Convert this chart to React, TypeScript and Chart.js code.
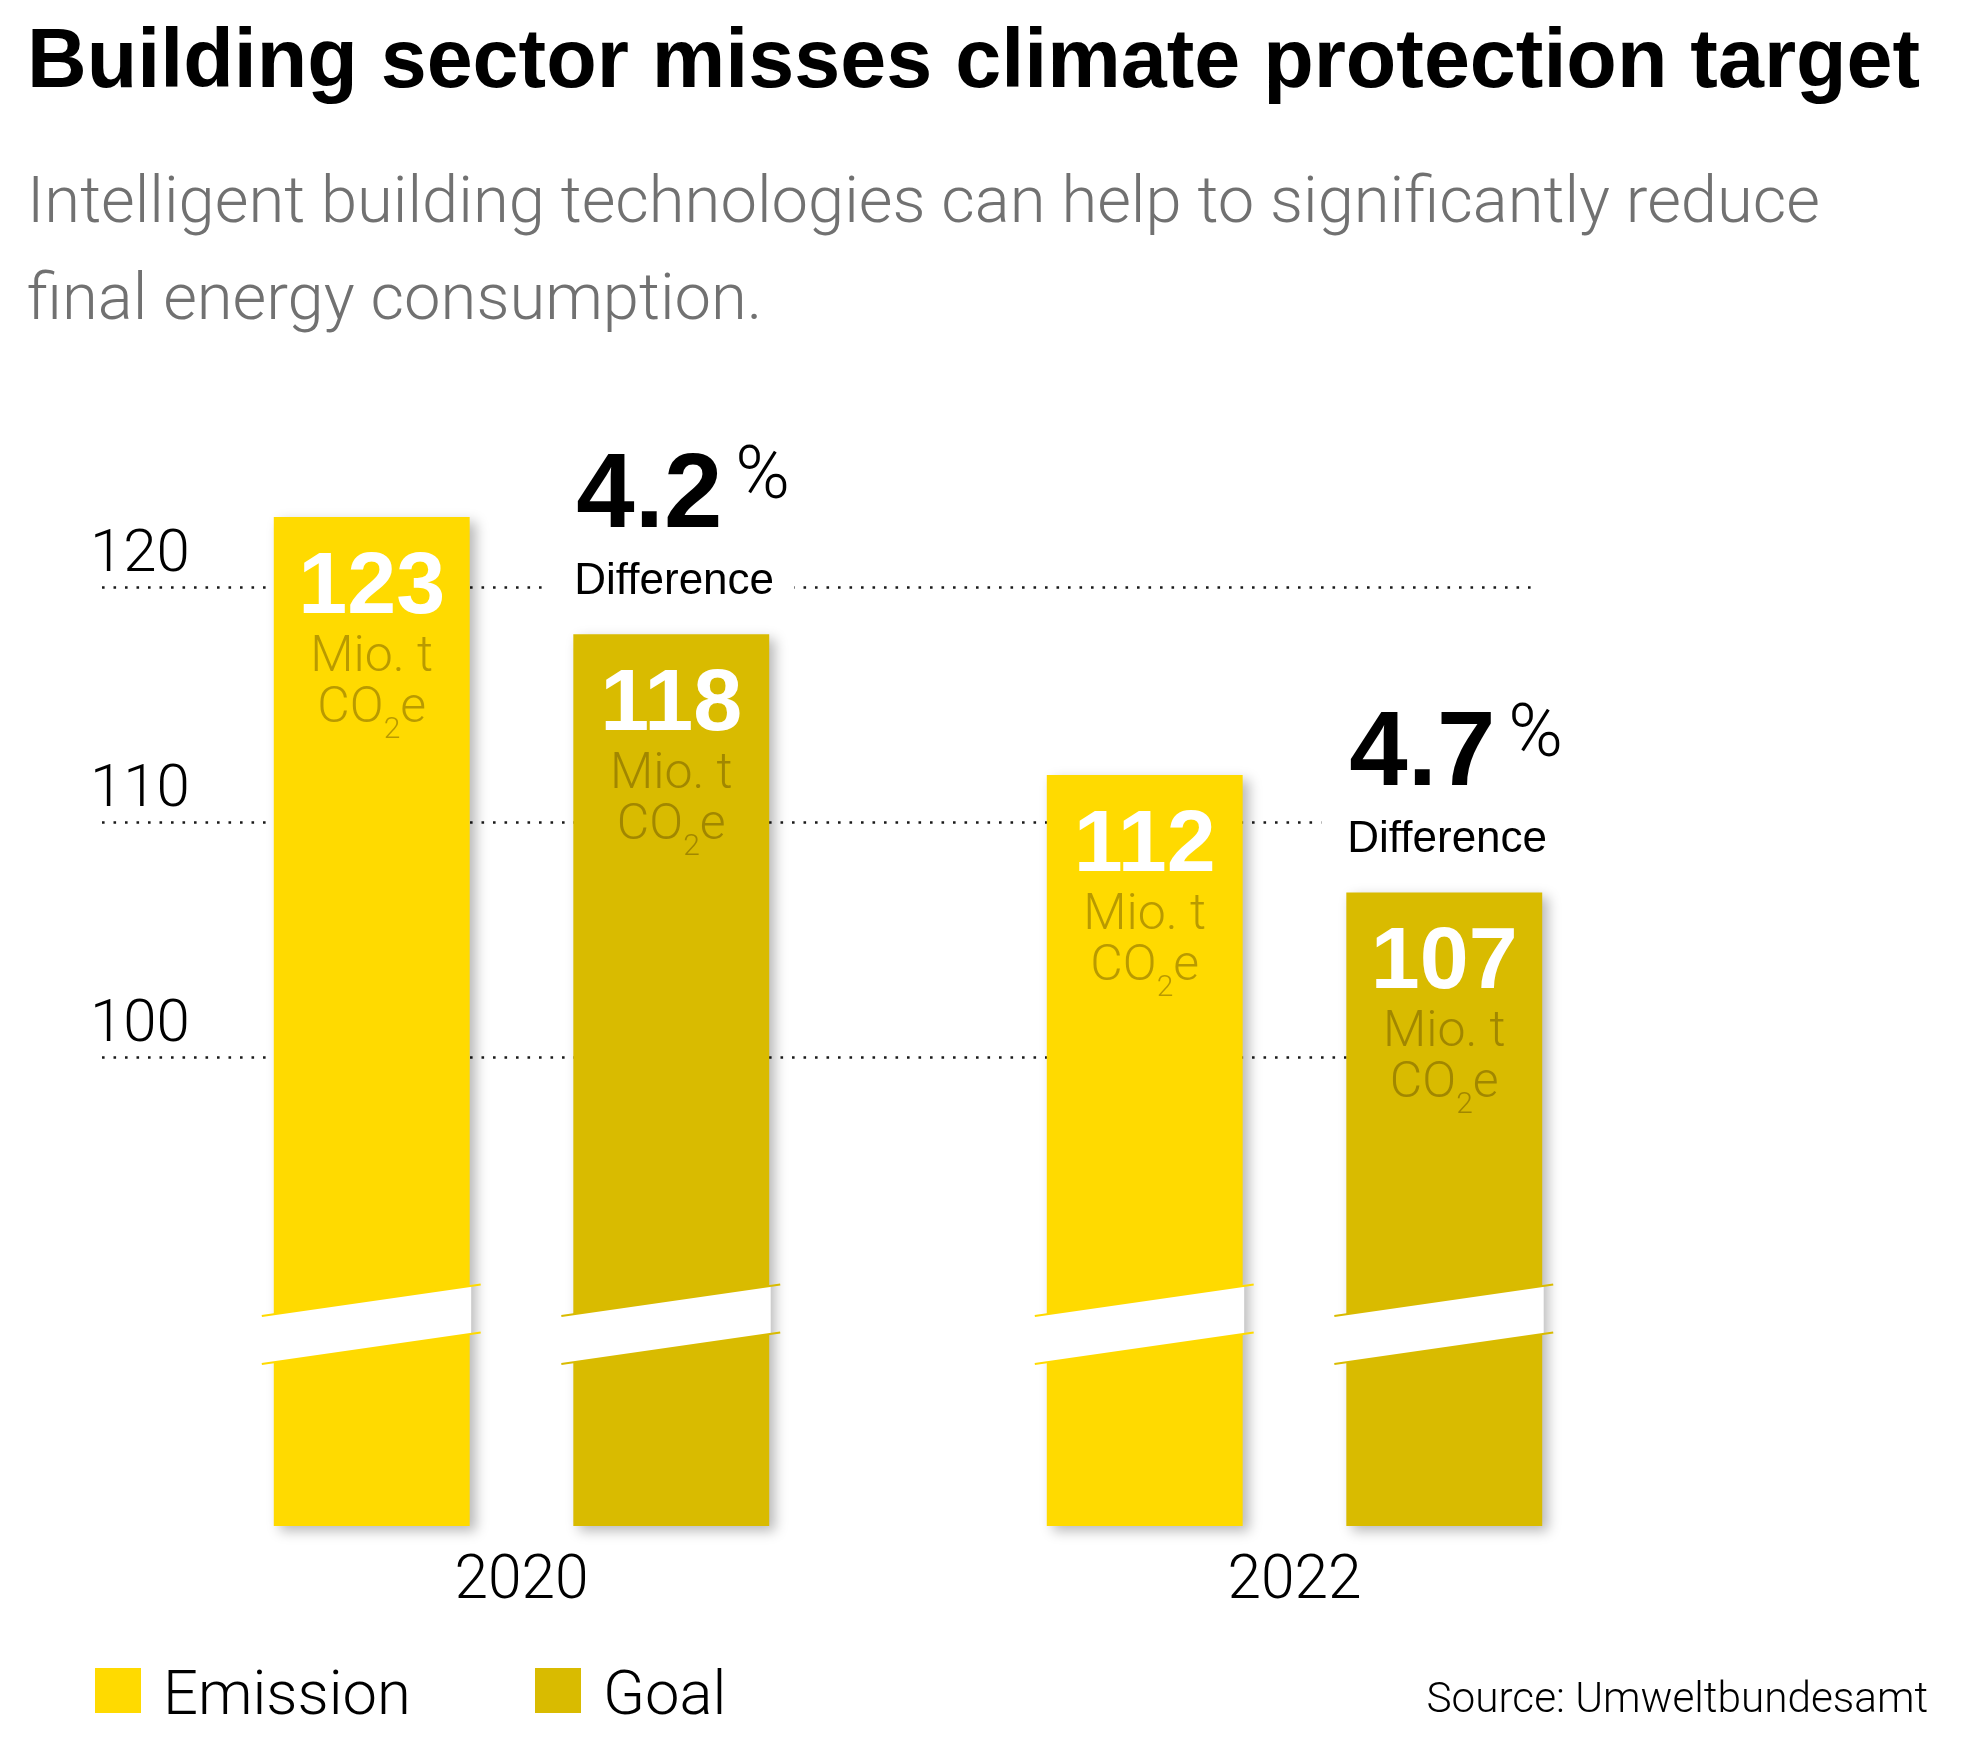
import React, { useEffect, useRef } from "react";
import { Chart, registerables } from "chart.js";

Chart.register(...registerables);

// ---------- data ----------
const TITLE = "Building sector misses climate protection target";
const SUBTITLE_LINES = [
  "Intelligent building technologies can help to significantly reduce",
  "final energy consumption.",
];
const categories = ["2020", "2022"];
const seriesNames = ["Emission", "Goal"];
const emissionValues = [123, 112];
const goalValues = [118, 107];
const differencePercents = ["4.2", "4.7"];
const differenceLabel = "Difference";
const unitLine1 = "Mio. t";
const unitLine2 = ["CO", "2", "e"];
const yTickValues = [100, 110, 120];
const yTickLabels = ["100", "110", "120"];
const yMin = 80;
const yMax = 125;
const breakValue = 88.6;
const SOURCE = "Source: Umweltbundesamt";

// ---------- style ----------
const COLORS = ["#FFDA00", "#D9BB00"];
const FONT = "'Liberation Sans', Arial, Helvetica, sans-serif";
const LIGHT = "300 {S}px Roboto, 'Liberation Sans', Arial, sans-serif";
const light = (s: number) => LIGHT.replace("{S}", String(s));
const W = 1974;
const H = 1750;

const decorPlugin = {
  id: "decor",
  beforeDatasetsDraw(chart: any) {
    const { ctx } = chart;
    const ys = chart.scales.y;
    const xs = chart.scales.x;

    // header
    ctx.save();
    ctx.fillStyle = "#000";
    ctx.textAlign = "left";
    ctx.textBaseline = "alphabetic";
    ctx.font = `bold 82.7px ${FONT}`;
    ctx.fillText(TITLE, 27, 87);
    ctx.fillStyle = "#717171";
    ctx.font = light(65.1);
    SUBTITLE_LINES.forEach((l, i) => ctx.fillText(l, 27, 222 + i * 97));
    ctx.restore();

    // dotted grid lines
    ctx.save();
    ctx.strokeStyle = "#1a1a1a";
    ctx.lineWidth = 2.6;
    ctx.setLineDash([2.6, 8.9]);
    yTickValues.forEach((v) => {
      const py = Math.round(ys.getPixelForValue(v)) + 0.5;
      ctx.beginPath();
      ctx.moveTo(102, py);
      ctx.lineTo(1538, py);
      ctx.stroke();
    });
    ctx.restore();

    // y tick labels (above line)
    ctx.save();
    ctx.fillStyle = "#000";
    ctx.font = light(60);
    ctx.textAlign = "left";
    ctx.textBaseline = "alphabetic";
    yTickValues.forEach((v, i) => {
      const py = ys.getPixelForValue(v);
      ctx.fillText(yTickLabels[i], 90, py - 16);
    });
    ctx.restore();

    // category labels
    ctx.save();
    ctx.fillStyle = "#000";
    ctx.font = light(60.5);
    ctx.textAlign = "center";
    categories.forEach((c, i) => {
      ctx.fillText(c, xs.getPixelForValue(i), 1598);
    });
    ctx.restore();

    // legend
    ctx.save();
    ctx.font = light(61.5);
    ctx.textAlign = "left";
    const legendX = [95, 535];
    chart.data.datasets.forEach((ds: any, i: number) => {
      ctx.fillStyle = ds.backgroundColor;
      ctx.fillRect(legendX[i], 1668, 46, 45);
      ctx.fillStyle = "#000";
      ctx.fillText(ds.label, legendX[i] + 68, 1714);
    });
    ctx.font = light(42.3);
    ctx.textAlign = "right";
    ctx.fillText(SOURCE, 1928, 1712);
    ctx.restore();

    // shadow for bars (restored after datasets)
    ctx.save();
    ctx.shadowColor = "rgba(0,0,0,0.28)";
    ctx.shadowBlur = 12;
    ctx.shadowOffsetX = 6;
    ctx.shadowOffsetY = 5;
  },
  afterDatasetsDraw(chart: any) {
    const { ctx } = chart;
    ctx.restore();
    const ys = chart.scales.y;
    const slope = 0.144;
    const half = 24;

    chart.data.datasets.forEach((ds: any, d: number) => {
      const meta = chart.getDatasetMeta(d);
      meta.data.forEach((el: any, i: number) => {
        const L = el.x - el.width / 2;
        const R = el.x + el.width / 2;
        const yc = ys.getPixelForValue(breakValue);
        const yAt = (x: number, off: number) => yc + off - (x - el.x) * slope;

        // axis break band
        ctx.save();
        ctx.fillStyle = "#fff";
        const x0 = L - 12;
        const x1 = R + 1.5;
        ctx.beginPath();
        ctx.moveTo(x0, yAt(x0, -half));
        ctx.lineTo(x1, yAt(x1, -half));
        ctx.lineTo(x1, yAt(x1, half));
        ctx.lineTo(x0, yAt(x0, half));
        ctx.closePath();
        ctx.fill();
        ctx.strokeStyle = ds.backgroundColor;
        ctx.lineWidth = 2.2;
        const xe = R + 11;
        [-half, half].forEach((off) => {
          ctx.beginPath();
          ctx.moveTo(x0, yAt(x0, off));
          ctx.lineTo(xe, yAt(xe, off));
          ctx.stroke();
        });
        ctx.restore();

        // value labels
        const top = el.y;
        const value = ds.data[i];
        ctx.save();
        ctx.textAlign = "center";
        ctx.textBaseline = "alphabetic";
        ctx.fillStyle = "#fff";
        ctx.font = `bold 88px ${FONT}`;
        const nb = top + 96;
        ctx.fillText(String(value), el.x, nb);
        ctx.fillStyle = "rgba(70,50,0,0.38)";
        const big = light(50);
        const small = light(30);
        ctx.font = big;
        ctx.fillText(unitLine1, el.x, nb + 58);
        const b2 = nb + 109;
        const w1 = ctx.measureText(unitLine2[0]).width;
        const w3 = ctx.measureText(unitLine2[2]).width;
        ctx.font = small;
        const w2 = ctx.measureText(unitLine2[1]).width;
        let sx = el.x - (w1 + w2 + w3) / 2;
        ctx.textAlign = "left";
        ctx.font = big;
        ctx.fillText(unitLine2[0], sx, b2);
        sx += w1;
        ctx.font = small;
        ctx.fillText(unitLine2[1], sx, b2 + 16);
        sx += w2;
        ctx.font = big;
        ctx.fillText(unitLine2[2], sx, b2);
        ctx.restore();

        // difference annotation above goal bars
        if (d === 1) {
          ctx.save();
          ctx.textAlign = "left";
          ctx.textBaseline = "alphabetic";
          const db = top - 40;
          ctx.font = `44px ${FONT}`;
          const dw = ctx.measureText(differenceLabel).width;
          ctx.fillStyle = "#fff";
          ctx.fillRect(L + 1 - 26, db - 40, dw + 46, 52);
          ctx.fillStyle = "#000";
          ctx.fillText(differenceLabel, L + 1, db);
          const pb = top - 107;
          ctx.font = `bold 105px ${FONT}`;
          const pct = differencePercents[i];
          ctx.fillText(pct, L + 3, pb);
          const pw = ctx.measureText(pct).width;
          ctx.font = light(74);
          ctx.fillText("%", L + 3 + pw + 13, pb - 29);
          ctx.restore();
        }
      });
    });
  },
};

export default function App() {
  const ref = useRef<HTMLCanvasElement | null>(null);
  useEffect(() => {
    if (!ref.current) return;
    const chart = new Chart(ref.current, {
      type: "bar",
      data: {
        labels: categories,
        datasets: [
          {
            label: seriesNames[0],
            data: emissionValues,
            backgroundColor: COLORS[0],
            borderWidth: 0,
            base: yMin,
            clip: false as any,
          },
          {
            label: seriesNames[1],
            data: goalValues,
            backgroundColor: COLORS[1],
            borderWidth: 0,
            base: yMin,
            clip: false as any,
          },
        ],
      },
      options: {
        responsive: false,
        animation: false,
        devicePixelRatio: 1,
        events: [],
        layout: {
          padding: { left: 135, right: 293, top: 470, bottom: 224 },
        },
        datasets: {
          bar: { categoryPercentage: 0.775, barPercentage: 0.654 },
        },
        plugins: {
          legend: { display: false },
          title: { display: false },
          tooltip: { enabled: false },
        },
        scales: {
          x: { display: false, offset: true },
          y: { display: false, min: yMin, max: yMax },
        },
      },
      plugins: [decorPlugin],
    });
    return () => chart.destroy();
  }, []);
  return (
    <div style={{ position: "absolute", left: 0, top: 0, width: W, height: H, background: "#fff" }}>
      <canvas ref={ref} width={W} height={H} style={{ display: "block", width: W, height: H }} />
    </div>
  );
}
